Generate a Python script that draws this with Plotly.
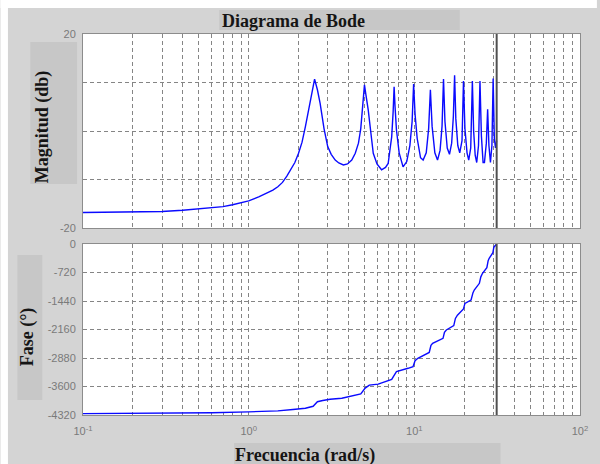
import plotly.graph_objects as go

# ---- data -------------------------------------------------------------
freq_mag = [0.1, 0.2, 0.3, 0.4, 0.5, 0.6, 0.7, 0.8, 0.9, 1.0, 1.15, 1.3, 1.4, 1.5,
            1.6, 1.7, 1.8, 1.9, 2.0, 2.1, 2.2, 2.3, 2.4, 2.5, 2.6, 2.7, 2.85, 3.0,
            3.15, 3.33, 3.5, 3.73, 3.95, 4.19, 4.4, 4.6, 4.75, 4.85, 4.95, 5.0, 5.1,
            5.27, 5.45, 5.65, 5.95, 6.34, 6.7, 6.95, 7.15, 7.3, 7.45, 7.55, 7.65,
            7.8, 8.1, 8.55, 9.0, 9.4, 9.7, 9.9, 10.1, 10.4, 10.9, 11.3, 11.8, 12.2,
            12.5, 12.8, 13.3, 13.8, 14.3, 14.7, 15.0, 15.3, 15.8, 16.3, 16.8, 17.2,
            17.5, 17.8, 18.3, 18.8, 19.4, 19.8, 20.2, 20.8, 21.3, 21.9, 22.4, 22.8,
            23.3, 23.8, 24.4, 24.9, 25.4, 26.0, 26.5, 27.2, 27.7, 28.2, 28.8, 29.4,
            29.9, 30.4, 30.9, 31.4]
mag_db = [-16.8, -16.7, -16.6, -16.35, -16.1, -15.9, -15.6, -15.2, -14.8, -14.4,
          -13.6, -12.8, -12.2, -11.5, -10.6, -9.3, -8.0, -6.5, -4.6, -2.3, 0.9,
          4.2, 8.0, 10.7, 8.5, 5.7, 0.5, -3.2, -4.8, -6.0, -6.6, -7.0, -6.8, -6.0,
          -4.6, -2.5, 0.5, 3.6, 8.0, 9.5, 7.5, 4.3, 0.0, -4.6, -6.8, -8.0, -7.5,
          -6.7, -3.5, -1.2, 4.0, 9.1, 5.0, 0.2, -4.5, -7.4, -6.3, -3.0, 2.0, 9.7,
          3.5, -1.5, -5.5, -6.0, -4.5, 0.5, 8.5, 1.0, -4.5, -6.0, -4.0, 1.0, 10.7,
          2.0, -3.5, -4.8, -2.5, 3.0, 11.5, 2.5, -3.0, -4.5, -2.0, 10.3, 0.5, -4.5,
          -6.0, -3.5, 10.3, 0.0, -5.0, -6.5, -3.0, 10.3, -1.0, -6.5, -6.5, -2.5,
          4.5, -3.0, -6.5, -3.0, 10.8, -1.5, -3.5, -2.0]

freq_phase = [0.1, 0.3, 0.6, 1.0, 1.5, 1.85, 2.2, 2.45, 2.6, 2.8, 3.1, 3.65, 4.3,
              4.75, 5.05, 5.35, 6.05, 6.9, 7.3, 7.65, 7.8, 9.16, 9.82, 10.1, 10.5,
              12.3, 12.6, 12.9, 14.9, 15.2, 15.6, 17.3, 17.7, 18.2, 19.8, 20.2,
              22.0, 22.6, 23.0, 24.7, 25.2, 25.8, 27.4, 27.9, 28.3, 29.8, 30.2, 31.4]
phase_deg = [-4285, -4280, -4262, -4240, -4215, -4180, -4150, -4100, -3985, -3955,
             -3923, -3898, -3840, -3789, -3640, -3565, -3540, -3453, -3420, -3280,
             -3225, -3140, -3098, -2950, -2887, -2740, -2560, -2508, -2382, -2230,
             -2172, -2060, -1880, -1800, -1640, -1500, -1415, -1230, -1162, -993,
             -830, -740, -600, -420, -361, -220, -80, 0]

nyquist_freq = 31.4

mag_labeled = [-20, 20]
mag_grid = [-10, 0, 10]
phase_ticks = [-4320, -3600, -2880, -2160, -1440, -720, 0]
phase_ticklabels = ["-4320", "-3600", "-2880", "-2160", "-1440", "-720", "0"]
decades = [0.1, 1, 10, 100]
decade_labels = ["10<sup>-1</sup>", "10<sup>0</sup>", "10<sup>1</sup>", "10<sup>2</sup>"]

# ---- page geometry ----------------------------------------------------
W, H = 600, 464
ML, MR, MT, MB = 83, 17, 34, 49
PW, PH = W - ML - MR, H - MT - MB


def px(x):
    return (x - ML) / PW


def py(y):
    return (H - MB - y) / PH


# log sub-grid: integer multiples 2..9 inside each decade
subdecade = [round(m * d, 6) for d in decades[:-1] for m in range(2, 10)]

BLUE = "#0a0aff"
GRID = "#858585"
BG = "#d4d4d4"
BOX = "#c7c7c7"
DASH = "4px,3px"
TICKFONT = dict(family="Liberation Sans, Arial, sans-serif", size=11, color="#7a7a7a")
LABELFONT = dict(family="Liberation Serif, Times New Roman, serif", size=18, color="#151515")

fig = go.Figure()

fig.add_trace(go.Scatter(x=freq_mag, y=mag_db, mode="lines",
                         line=dict(color=BLUE, width=1.4),
                         xaxis="x", yaxis="y", showlegend=False, hoverinfo="skip"))
fig.add_trace(go.Scatter(x=[nyquist_freq, nyquist_freq], y=[-20, 20],
                         mode="lines", line=dict(color="#505050", width=2),
                         xaxis="x", yaxis="y", showlegend=False, hoverinfo="skip"))
fig.add_trace(go.Scatter(x=freq_phase, y=phase_deg, mode="lines",
                         line=dict(color=BLUE, width=1.4),
                         xaxis="x2", yaxis="y2", showlegend=False, hoverinfo="skip"))
fig.add_trace(go.Scatter(x=[nyquist_freq, nyquist_freq], y=[phase_ticks[0], phase_ticks[-1]],
                         mode="lines", line=dict(color="#505050", width=2),
                         xaxis="x2", yaxis="y2", showlegend=False, hoverinfo="skip"))

common_x = dict(type="log", range=[-1, 2], tickmode="array", tickvals=decades,
                ticktext=decade_labels, showgrid=True, gridcolor=GRID, griddash=DASH,
                gridwidth=1, showline=True, mirror=True, linecolor="#8c8c8c",
                linewidth=1, zeroline=False, ticks="", tickfont=TICKFONT,
                minor=dict(tickmode="array", tickvals=subdecade, showgrid=True,
                           gridcolor=GRID, griddash=DASH, gridwidth=1, ticks=""))
common_y = dict(showgrid=True, gridcolor=GRID, griddash=DASH, gridwidth=1,
                showline=True, mirror=True, linecolor="#8c8c8c", linewidth=1,
                zeroline=False, ticks="", tickfont=TICKFONT, tickmode="array",
                ticklabelstandoff=4)

fig.update_layout(
    width=W, height=H, autosize=False,
    margin=dict(l=ML, r=MR, t=MT, b=MB, pad=0),
    paper_bgcolor=BG, plot_bgcolor="white",
    xaxis=dict(common_x, domain=[0, 1], anchor="y", showticklabels=False),
    yaxis=dict(common_y, domain=[py(228), 1], anchor="x", range=[-20, 20],
               tickvals=mag_labeled, ticktext=[str(v) for v in mag_labeled],
               minor=dict(tickmode="array", tickvals=mag_grid, showgrid=True,
                          gridcolor=GRID, griddash=DASH, gridwidth=1, ticks="")),
    xaxis2=dict(common_x, domain=[0, 1], anchor="y2", showticklabels=True,
                ticklabelstandoff=6),
    yaxis2=dict(common_y, domain=[0, py(244)], anchor="x2", range=[-4320, 0],
                tickvals=phase_ticks, ticktext=phase_ticklabels),
)

# white page edge and label backdrops
shapes = [
    dict(x0=px(0), x1=px(W), y0=py(0), y1=py(8), fillcolor="white"),
    dict(x0=px(0), x1=px(7.5), y0=py(0), y1=py(H), fillcolor="white"),
    dict(x0=px(220), x1=px(462), y0=py(10), y1=py(30), fillcolor=BOX),
    dict(x0=px(30), x1=px(77), y0=py(42), y1=py(184), fillcolor=BOX),
    dict(x0=px(17), x1=px(42), y0=py(255), y1=py(400), fillcolor=BOX),
    dict(x0=px(235), x1=px(503), y0=py(443), y1=py(H), fillcolor=BOX),
]
for s in shapes:
    fig.add_shape(type="rect", xref="paper", yref="paper", line=dict(width=0),
                  layer="below", **s)

texts = [
    ("<b>Diagrama de Bode</b>", 295, 21, 0),
    ("<b>Magnitud (db)</b>", 42.5, 126.5, -90),
    ("<b>Fase (°)</b>", 27, 337, -90),
    ("<b>Frecuencia (rad/s)</b>", 306.5, 455, 0),
]
for txt, x, y, ang in texts:
    fig.add_annotation(text=txt, xref="paper", yref="paper", x=px(x), y=py(y),
                       xanchor="center", yanchor="middle", textangle=ang,
                       showarrow=False, font=LABELFONT)

fig.write_html("out.html")
